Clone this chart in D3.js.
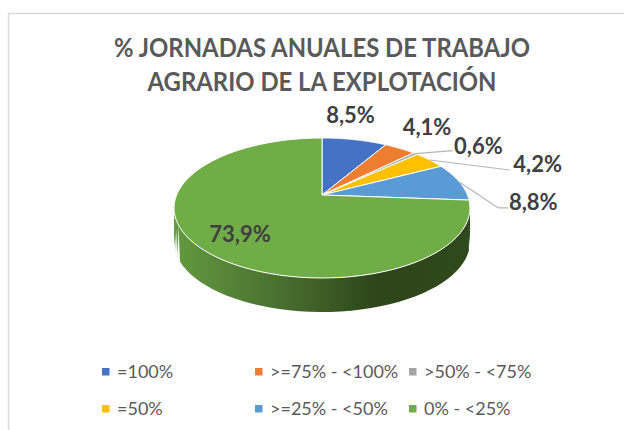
<!DOCTYPE html>
<html>
<head>
<meta charset="utf-8">
<script src="https://cdn.jsdelivr.net/npm/d3@7"></script>
<style>
  html, body { margin: 0; padding: 0; background: #fff; }
  svg { display: block; font-family: Lato, "Open Sans", sans-serif; }
</style>
</head>
<body>
<div id="chart"></div>
<script>
const categories = ["=100%", ">=75% - <100%", ">50% - <75%", "=50%", ">=25% - <50%", "0% - <25%"];
const values = [8.5, 4.1, 0.6, 4.2, 8.8, 73.9];
const valueLabels = ["8,5%", "4,1%", "0,6%", "4,2%", "8,8%", "73,9%"];
const colors = ["#4472c4", "#ed7d31", "#a5a5a5", "#ffc000", "#5b9bd5", "#70ad47"];
const titleLines = ["% JORNADAS ANUALES DE TRABAJO", "AGRARIO DE LA EXPLOTACIÓN"];

const width = 624, height = 430;

// tilted disc, the apex sits above the middle of the ellipse because of the perspective
const cx = 322, cy = 195;
const radiusX = 145.4, radiusY = 67.6, tilt = 0.1855, depth = 34;

function project(angle) {
  const u = Math.sin(angle), v = Math.cos(angle);
  const w = 1 + tilt * v;
  return [cx + radiusX * u / w, cy - radiusY * v / w];
}

const svg = d3.select("#chart").append("svg")
  .attr("width", width)
  .attr("height", height);

// frame of the chart, cut by the screenshot on the right and bottom
svg.append("path")
  .attr("d", `M8.5,${height}V13.5H${width}`)
  .attr("fill", "none")
  .attr("stroke", "#d9d9d9")
  .attr("stroke-width", 1.5);

// Calibri is not installed, so the title is squeezed to the width it has in the picture
const titleWidths = [416, 349];
svg.selectAll(".title")
  .data(titleLines)
  .enter().append("text")
  .attr("class", "title")
  .attr("x", 322)
  .attr("y", (d, i) => 56.5 + i * 34.5)
  .attr("text-anchor", "middle")
  .attr("font-size", 27)
  .attr("font-weight", 700)
  .attr("fill", "#595959")
  .attr("textLength", (d, i) => titleWidths[i])
  .attr("lengthAdjust", "spacingAndGlyphs")
  .text(d => d);

const slices = d3.pie().value(d => d).sort(null)(values);

function rimPoints(start, end) {
  return d3.range(0, 1.0001, 1 / 80).map(t => project(start + (end - start) * t));
}

// side wall
const defs = svg.append("defs");
const sideGradient = defs.append("linearGradient")
  .attr("id", "side")
  .attr("gradientUnits", "userSpaceOnUse")
  .attr("x1", 174).attr("x2", 470)
  .attr("y1", 0).attr("y2", 0);
sideGradient.selectAll("stop")
  .data([[0, "#639a3f"], [0.35, "#4a7030"], [0.68, "#2d4519"], [1, "#2f481c"]])
  .enter().append("stop")
  .attr("offset", d => d[0])
  .attr("stop-color", d => d[1]);

const last = slices[slices.length - 1];
const sideArea = d3.area().x(d => d[0]).y0(d => d[1]).y1(d => d[1] + depth);
svg.append("path")
  .attr("d", sideArea(rimPoints(last.startAngle, last.endAngle)
    .filter(d => d[1] >= 190)
    .sort((a, b) => a[0] - b[0])))
  .attr("fill", "url(#side)");

// top of the pie
const sliceLine = d3.line();
svg.selectAll(".slice")
  .data(slices)
  .enter().append("path")
  .attr("class", "slice")
  .attr("d", d => sliceLine([[cx, cy], ...rimPoints(d.startAngle, d.endAngle)]) + "Z")
  .attr("fill", (d, i) => colors[i])
  .attr("stroke", "#fff")
  .attr("stroke-width", 1)
  .attr("stroke-linejoin", "round");

// label placement relative to the rim point at the middle of each slice
const labelOffsets = [[-4, -24], [27, -21], [63, -7], [108, 4], [74, 20], [40, -13]];
const leaderOffsets = [null, null, [[37, -3]], [[80, 10]], [[39, 26], [49, 26]], null];

const rimMid = d => project((d.startAngle + d.endAngle) / 2);

svg.selectAll(".leader")
  .data(slices.filter((d, i) => leaderOffsets[i]))
  .enter().append("path")
  .attr("class", "leader")
  .attr("d", d => {
    const p = rimMid(d);
    return d3.line()([p, ...leaderOffsets[d.index].map(o => [p[0] + o[0], p[1] + o[1]])]);
  })
  .attr("fill", "none")
  .attr("stroke", "#b5b5b5")
  .attr("stroke-width", 1.2);

svg.selectAll(".value")
  .data(slices)
  .enter().append("text")
  .attr("class", "value")
  .attr("x", d => rimMid(d)[0] + labelOffsets[d.index][0])
  .attr("y", d => rimMid(d)[1] + labelOffsets[d.index][1])
  .attr("dy", "0.35em")
  .attr("text-anchor", "middle")
  .attr("font-size", 22)
  .attr("font-weight", 700)
  .attr("fill", "#404040")
  .text((d, i) => valueLabels[i]);

// legend, 3 columns by 2 rows
const legendX = d3.scaleOrdinal().domain([0, 1, 2]).range([102, 255, 409]);
const legendY = d3.scaleOrdinal().domain([0, 1]).range([372, 409]);

const legend = svg.selectAll(".legend")
  .data(categories)
  .enter().append("g")
  .attr("class", "legend")
  .attr("transform", (d, i) => `translate(${legendX(i % 3)},${legendY(Math.floor(i / 3))})`);

legend.append("rect")
  .attr("x", 0)
  .attr("y", -4)
  .attr("width", 7.5)
  .attr("height", 7.5)
  .attr("fill", (d, i) => colors[i]);

legend.append("text")
  .attr("x", 15)
  .attr("dy", "0.35em")
  .attr("font-size", 18)
  .attr("fill", "#595959")
  .text(d => d);
</script>
</body>
</html>
